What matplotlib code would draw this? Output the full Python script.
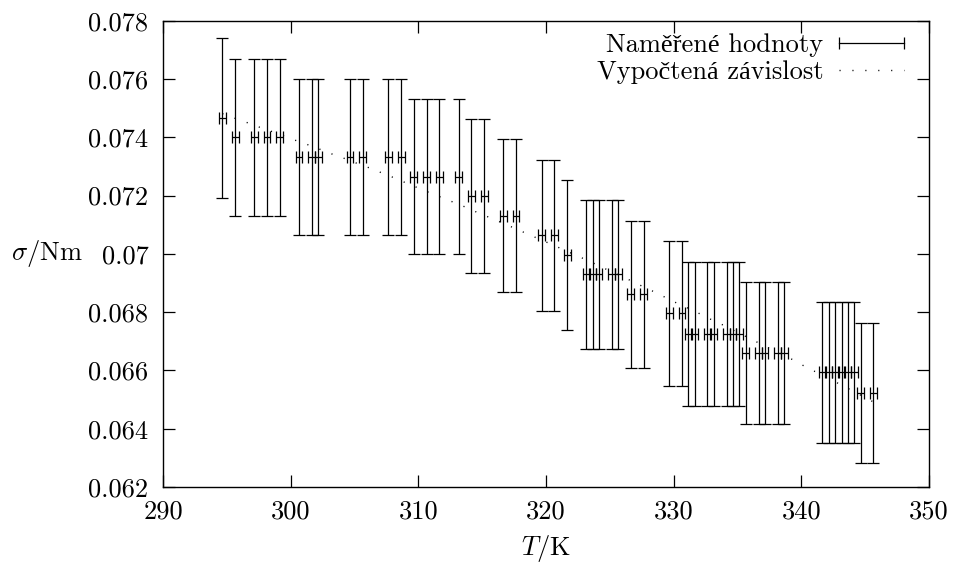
import matplotlib
matplotlib.use("Agg")
import matplotlib.pyplot as plt
from matplotlib.ticker import FuncFormatter, FixedLocator
from matplotlib.lines import Line2D
from matplotlib.legend_handler import HandlerLine2D

plt.rcParams['font.family'] = ['cmr10', 'Liberation Serif']
plt.rcParams['mathtext.fontset'] = 'cm'
plt.rcParams['axes.formatter.use_mathtext'] = True

FS = 19

# measured data
T = [294.65, 295.65, 297.15, 298.15, 299.15, 300.65, 301.65, 302.15, 304.65, 305.65,
     307.65, 308.65, 309.65, 310.65, 311.65, 313.15, 314.15, 315.15, 316.65, 317.65,
     319.65, 320.65, 321.65, 323.15, 323.65, 324.15, 325.15, 325.65, 326.65, 327.65,
     329.65, 330.65, 331.15, 331.65, 332.65, 333.15, 334.15, 334.65, 335.15, 335.65,
     336.65, 337.15, 338.15, 338.65, 341.65, 342.15, 342.65, 343.15, 343.65, 344.15,
     344.65, 345.65]
sigma = [0.07466, 0.07400, 0.07400, 0.07400, 0.07400, 0.07332, 0.07332, 0.07332, 0.07332, 0.07332,
         0.07332, 0.07332, 0.07264, 0.07264, 0.07264, 0.07264, 0.07198, 0.07198, 0.07131, 0.07131,
         0.07063, 0.07063, 0.06996, 0.06930, 0.06930, 0.06930, 0.06930, 0.06930, 0.06862, 0.06862,
         0.06796, 0.06796, 0.06726, 0.06726, 0.06726, 0.06726, 0.06726, 0.06726, 0.06726, 0.06661,
         0.06661, 0.06661, 0.06661, 0.06661, 0.06593, 0.06593, 0.06593, 0.06593, 0.06593, 0.06593,
         0.06524, 0.06524]
sigma_err = [0.00273, 0.00270, 0.00270, 0.00270, 0.00270, 0.00268, 0.00268, 0.00268, 0.00268, 0.00268,
             0.00268, 0.00268, 0.00266, 0.00266, 0.00266, 0.00266, 0.00263, 0.00263, 0.00262, 0.00262,
             0.00259, 0.00259, 0.00257, 0.00255, 0.00255, 0.00255, 0.00255, 0.00255, 0.00252, 0.00252,
             0.00249, 0.00249, 0.00247, 0.00247, 0.00247, 0.00247, 0.00247, 0.00247, 0.00247, 0.00244,
             0.00244, 0.00244, 0.00244, 0.00244, 0.00243, 0.00243, 0.00243, 0.00243, 0.00243, 0.00243,
             0.00240, 0.00240]
T_err = 0.27

# computed dependence
fit_T = [294.65, 295.38, 296.37, 297.33, 298.33, 300.28, 301.25, 302.22, 303.21, 304.17,
         305.17, 306.16, 307.07, 308.04, 309.0, 309.94, 310.93, 311.9, 312.87, 313.83,
         314.77, 315.74, 317.64, 318.61, 320.52, 322.4, 323.34, 324.28, 326.18, 327.1,
         328.03, 328.97, 329.91, 331.79, 332.73, 333.67, 336.49, 339.23, 340.14, 342.96,
         343.88, 345.94]
fit_sigma = [0.07481, 0.07469, 0.07454, 0.07438, 0.07423, 0.07391, 0.07376, 0.0736, 0.07343, 0.07328,
             0.07311, 0.07295, 0.07279, 0.07262, 0.07244, 0.07227, 0.07209, 0.07192, 0.07175, 0.07158,
             0.07139, 0.07122, 0.07086, 0.07067, 0.07031, 0.06994, 0.06976, 0.06956, 0.06918, 0.06898,
             0.06879, 0.06859, 0.06838, 0.068, 0.06779, 0.0676, 0.06698, 0.06639, 0.06617, 0.06554,
             0.06533, 0.06485]

x_ticks = [290, 300, 310, 320, 330, 340, 350]
y_ticks = [0.062, 0.064, 0.066, 0.068, 0.070, 0.072, 0.074, 0.076, 0.078]

fig = plt.figure(figsize=(9.56, 5.63), dpi=100)
ax = fig.add_axes([163/956, (563-487)/563, 766/956, 466.3/563])

ax.errorbar(T, sigma, xerr=T_err, yerr=sigma_err, fmt='none', ecolor='black',
            elinewidth=0.9, capsize=4.6, capthick=0.9)
fit_line, = ax.plot(fit_T, fit_sigma, color='black', lw=1.0,
                    linestyle=(0, (0.8, 8.5)), dash_capstyle='butt')

ax.set_xlim(290, 350)
ax.set_ylim(0.062, 0.078)
ax.xaxis.set_major_locator(FixedLocator(x_ticks))
ax.yaxis.set_major_locator(FixedLocator(y_ticks))
ax.yaxis.set_major_formatter(FuncFormatter(lambda v, p: '%g' % round(v, 4)))
ax.xaxis.set_major_formatter(FuncFormatter(lambda v, p: '%g' % v))
ax.tick_params(direction='in', length=8.6, width=0.9, top=True, right=True,
               labelsize=FS)
ax.tick_params(axis='x', pad=9)
ax.tick_params(axis='y', pad=10.5)
for s in ax.spines.values():
    s.set_linewidth(1.0)

ax.set_ylabel(r'$\sigma$/Nm', rotation=0, fontsize=FS, ha='right', va='center')
ax.yaxis.set_label_coords(-0.105, 0.5)
ax.set_xlabel(r'$T$/K', fontsize=FS, va='baseline')
ax.xaxis.set_label_coords(0.5, -(555 - 487) / 466.3)

meas_handle = Line2D([], [], color='black', lw=0.9, marker='|', markersize=9, mew=0.9)
leg = ax.legend([meas_handle, fit_line],
                ['Naměřené hodnoty', 'Vypočtená závislost'],
                handler_map={meas_handle: HandlerLine2D(numpoints=2, marker_pad=0)},
                loc='upper right', bbox_to_anchor=(0.968, 0.972), frameon=False,
                markerfirst=False, fontsize=FS, handlelength=65/(FS*1.389),
                handletextpad=16/(FS*1.389), borderpad=0, borderaxespad=0,
                labelspacing=0.1)

fig.savefig('out.png', dpi=100)
